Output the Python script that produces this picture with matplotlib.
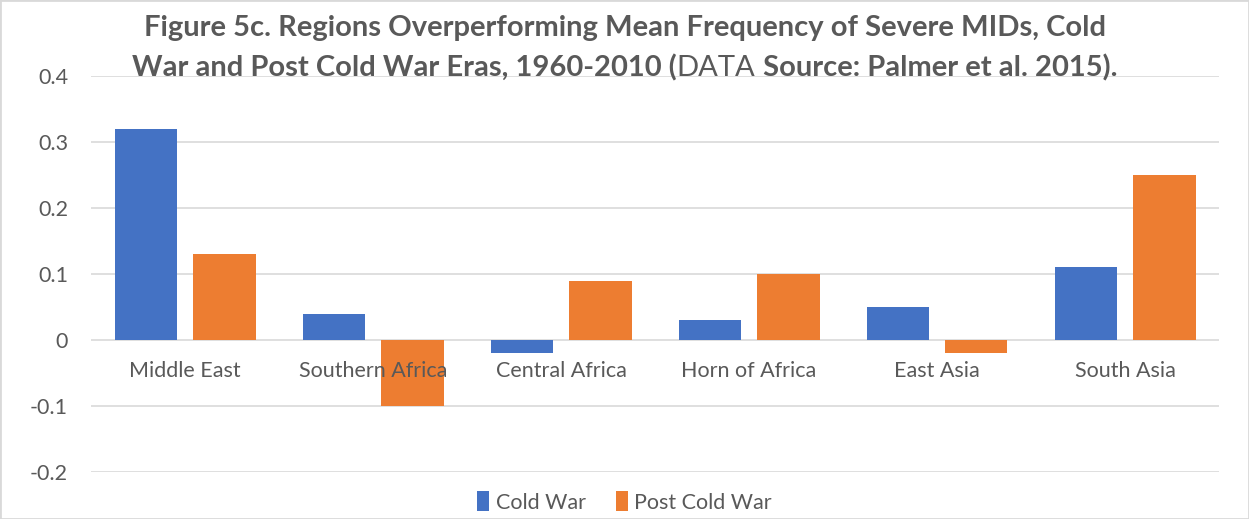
import matplotlib.pyplot as plt
import numpy as np
from matplotlib.patches import Rectangle

regions = ['Middle East', 'Southern Africa', 'Central Africa', 'Horn of Africa', 'East Asia', 'South Asia']
cold_war = [0.32, 0.04, -0.02, 0.03, 0.05, 0.11]
post_cold_war = [0.13, -0.10, 0.09, 0.10, -0.02, 0.25]
yticks = [-0.2, -0.1, 0, 0.1, 0.2, 0.3, 0.4]

plt.rcParams['font.family'] = ['Lato', 'DejaVu Sans']
grey = '#595959'
W, H = 1249, 519

fig = plt.figure(figsize=(12.49, 5.19), dpi=100)
ax = fig.add_axes([91 / W, 1 - 472 / H, 1128 / W, 396 / H])

x = np.arange(len(regions))
w = 0.335
ax.bar(x - 0.2075, cold_war, w, color='#4472c4', label='Cold War', zorder=2)
ax.bar(x + 0.2075, post_cold_war, w, color='#ed7d31', label='Post Cold War', zorder=2)

ax.set_xlim(-0.5, len(regions) - 0.5)
ax.set_ylim(-0.2, 0.4)
ax.set_yticks(yticks)
ax.set_yticklabels(['-0.2', '-0.1', '0', '0.1', '0.2', '0.3', '0.4'], fontsize=15.5, color=grey)
ax.set_xticks([])
ax.tick_params(axis='y', length=0, pad=16.5)
ax.grid(axis='y', color='#d9d9d9', linewidth=1.2, zorder=0)
for s in ax.spines.values():
    s.set_visible(False)

# category labels sit just under the zero line, on top of the bars
for i, r in enumerate(regions):
    ax.annotate(r, (i, 0), xytext=(0, -31), textcoords='offset pixels',
                ha='center', va='center', fontsize=15.5, color=grey, zorder=5)

# title, two lines; "DATA" is not bold in the original
tsize = 21
fig.text(0.5, 1 - 28 / H, 'Figure 5c. Regions Overperforming Mean Frequency of Severe MIDs, Cold',
         ha='center', va='center', fontsize=tsize, fontweight='bold', color=grey)
parts = [('War and Post Cold War Eras, 1960-2010 (', 'bold'), ('DATA', 'normal'),
         (' Source: Palmer et al. 2015).', 'bold')]
renderer = fig.canvas.get_renderer()
texts = []
for s, fw in parts:
    t = fig.text(0, 1 - 68 / H, s, ha='left', va='center', fontsize=tsize,
                 fontweight=fw, color=grey)
    texts.append(t)
widths = [t.get_window_extent(renderer).width for t in texts]
xpos = (W - sum(widths)) / 2
for t, wd in zip(texts, widths):
    t.set_x(xpos / W)
    xpos += wd

fig.legend(loc='center', bbox_to_anchor=(0.5, 1 - 502 / H), ncol=2, frameon=False,
           fontsize=15.5, handlelength=0.55, handleheight=1.0, columnspacing=1.4,
           handletextpad=0.3, labelcolor=grey)

fig.add_artist(Rectangle((0, 0), 1, 1, transform=fig.transFigure, fill=False,
                         edgecolor='#d9d9d9', linewidth=2))

fig.savefig('out.png', dpi=100)
